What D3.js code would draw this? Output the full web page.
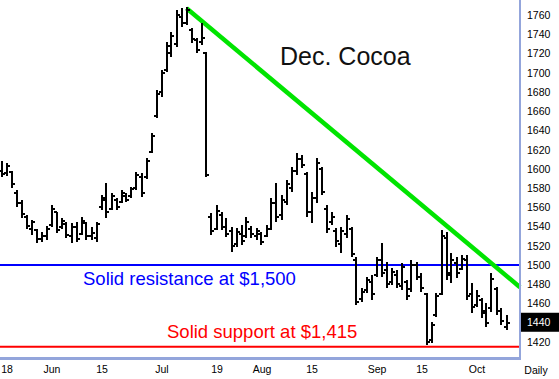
<!DOCTYPE html>
<html><head><meta charset="utf-8">
<script src="https://cdn.jsdelivr.net/npm/d3@7"></script>
<style>
html,body{margin:0;padding:0;background:#fff;}
svg{display:block;}
text{font-family:"Liberation Sans",Arial,sans-serif;}
</style></head><body>
<svg id="c" width="559" height="379"></svg>
<script>
// ---- data (Dec. Cocoa daily bars) ----
const dates = ["5/17","5/18","5/19","5/20","5/21","5/24","5/25","5/26","5/27","5/28",
"6/1","6/2","6/3","6/4","6/7","6/8","6/9","6/10","6/11","6/14",
"6/15","6/16","6/17","6/18","6/21","6/22","6/23","6/24","6/25","6/28",
"6/29","6/30","7/1","7/2","7/6","7/7","7/8","7/9","7/12","7/13",
"7/14","7/15","7/16","7/19","7/20","7/21","7/22","7/23","7/26","7/27",
"7/28","7/29","7/30","8/2","8/3","8/4","8/5","8/6","8/9","8/10",
"8/11","8/12","8/13","8/16","8/17","8/18","8/19","8/20","8/23","8/24",
"8/25","8/26","8/27","8/30","8/31","9/1","9/2","9/3","9/7","9/8",
"9/9","9/10","9/13","9/14","9/15","9/16","9/17","9/20","9/21","9/22",
"9/23","9/24","9/27","9/28","9/29","9/30","10/1","10/4","10/5","10/6",
"10/7","10/8"];
const highs = [1608,1606,1598,1578,1568,1552,1547,1538,1534,1541,
1562,1555,1549,1545,1544,1545,1550,1545,1540,1545,
1573,1585,1575,1570,1578,1575,1581,1597,1596,1611,
1637,1682,1703,1732,1742,1765,1767,1768,1746,1736,
1752,1722,1554,1562,1555,1549,1540,1539,1542,1550,
1541,1539,1534,1542,1570,1585,1573,1588,1602,1617,
1614,1597,1576,1611,1602,1562,1555,1539,1540,1552,
1540,1508,1476,1488,1490,1508,1523,1503,1497,1495,
1502,1484,1505,1503,1492,1471,1441,1471,1536,1534,
1513,1508,1510,1510,1481,1474,1466,1461,1492,1477,
1455,1448];
const lows = [1592,1593,1580,1560,1549,1538,1531,1523,1524,1526,
1540,1533,1538,1528,1523,1524,1531,1526,1526,1524,
1557,1549,1557,1557,1565,1566,1570,1578,1571,1590,
1616,1653,1675,1701,1716,1727,1748,1750,1731,1720,
1729,1592,1531,1536,1536,1529,1514,1519,1521,1528,
1528,1526,1521,1529,1536,1545,1547,1562,1576,1594,
1601,1550,1544,1565,1573,1533,1542,1519,1513,1528,
1508,1458,1462,1471,1464,1488,1488,1476,1479,1476,
1474,1464,1472,1484,1472,1417,1419,1446,1469,1484,
1481,1487,1495,1464,1450,1456,1445,1436,1451,1448,
1438,1432];
const opens = [1598,1596,1597,1575,1565,1550,1538,1536,1527,1530,
1542,1555,1540,1543,1530,1540,1532,1544,1530,1528,
1560,1568,1558,1568,1566,1572,1572,1580,1592,1592,
1618,1655,1680,1703,1720,1730,1758,1752,1744,1734,
1732,1720,1550,1538,1552,1540,1535,1522,1532,1530,
1538,1530,1532,1530,1538,1565,1552,1566,1580,1598,
1610,1595,1555,1570,1600,1558,1545,1535,1522,1532,
1538,1505,1465,1474,1482,1490,1505,1495,1482,1490,
1478,1482,1475,1500,1488,1470,1422,1448,1470,1528,
1492,1502,1496,1505,1470,1458,1464,1452,1455,1475,
1452,1436];
const closes = [1595,1603,1584,1565,1553,1541,1545,1527,1530,1538,
1558,1536,1546,1531,1540,1527,1546,1530,1533,1543,
1570,1555,1572,1560,1575,1568,1579,1594,1575,1608,
1634,1678,1700,1728,1738,1760,1752,1765,1735,1724,
1736,1594,1535,1556,1540,1532,1520,1534,1525,1545,
1532,1535,1524,1538,1565,1550,1568,1584,1598,1610,
1604,1555,1570,1606,1576,1538,1550,1525,1535,1548,
1512,1462,1472,1484,1470,1505,1492,1480,1493,1480,
1498,1468,1500,1488,1476,1420,1438,1468,1530,1490,
1505,1492,1506,1468,1456,1468,1450,1440,1485,1452,
1442,1440];
const priceTicks = [1420,1440,1460,1480,1500,1520,1540,1560,1580,1600,1620,1640,1660,1680,1700,1720,1740,1760];
const dateTickIdx = [1,10,20,32,43,52,62,75,84,95];
const dateTickLabels = ["18","Jun","15","Jul","19","Aug","15","Sep","15","Oct"];
const resistance = 1500, support = 1415;
const trendIdx = [37, 103.7], trendPrice = [1767, 1477];
const lastPrice = 1440;

// ---- drawing ----
const svg = d3.select("#c");
const W = 559, H = 379, plotR = 520, plotB = 357;
const x = d3.scaleLinear().domain([0, 103.7]).range([1.5, 520]);
const y = d3.scaleLinear().domain([1420, 1760]).range([342, 15]);
const idx = d3.range(highs.length);

svg.append("rect").attr("width", W).attr("height", H).attr("fill", "#ffffff");

// horizontal lines
svg.append("line").attr("x1", 0).attr("x2", plotR - 1)
  .attr("y1", y(resistance)).attr("y2", y(resistance))
  .attr("stroke", "#0000ff").attr("stroke-width", 2);
svg.append("line").attr("x1", 0).attr("x2", plotR - 1)
  .attr("y1", y(support)).attr("y2", y(support))
  .attr("stroke", "#ff0000").attr("stroke-width", 2);

// trend line
svg.append("line")
  .attr("x1", x(trendIdx[0])).attr("y1", y(trendPrice[0]))
  .attr("x2", x(trendIdx[1])).attr("y2", y(trendPrice[1]))
  .attr("stroke", "#00e400").attr("stroke-width", 4.5);

// OHLC bars
const g = svg.append("g").attr("stroke", "#000").attr("stroke-width", 2).attr("shape-rendering", "crispEdges");
const bars = g.selectAll("g.bar").data(idx).enter().append("g");
bars.append("line")
  .attr("x1", i => Math.round(x(i))).attr("x2", i => Math.round(x(i)))
  .attr("y1", i => y(highs[i])).attr("y2", i => y(lows[i]));
bars.append("line")
  .attr("x1", i => Math.round(x(i)) - 3).attr("x2", i => Math.round(x(i)))
  .attr("y1", i => Math.round(y(opens[i]))).attr("y2", i => Math.round(y(opens[i])));
bars.append("line")
  .attr("x1", i => Math.round(x(i))).attr("x2", i => Math.round(x(i)) + 3)
  .attr("y1", i => Math.round(y(closes[i]))).attr("y2", i => Math.round(y(closes[i])));

// borders
svg.append("rect").attr("x", 0).attr("y", plotB).attr("width", plotR + 1).attr("height", 3).attr("fill", "#93a5db");
svg.append("rect").attr("x", plotR - 1).attr("y", 0).attr("width", 2).attr("height", plotB + 3).attr("fill", "#93a5db");

// right axis
const ya = svg.append("g").attr("transform", `translate(${plotR},0)`)
  .call(d3.axisRight(y).tickValues(priceTicks).tickSize(0).tickPadding(7).tickFormat(d3.format("d")));
ya.select(".domain").remove();
ya.selectAll("text").attr("font-size", "10.5px").attr("fill", "#000").attr("font-family", "Liberation Sans, Arial, sans-serif");

// last price box
svg.append("rect").attr("x", plotR + 1).attr("y", y(lastPrice) - 10).attr("width", W - plotR - 1).attr("height", 19).attr("fill", "#000");
svg.append("text").attr("x", plotR + 7).attr("y", y(lastPrice)).attr("dy", "0.32em")
  .attr("font-size", "10.5px").attr("fill", "#fff").text(d3.format("d")(lastPrice));

// bottom axis labels
const xa = svg.append("g").attr("transform", `translate(0,${plotB + 3})`)
  .call(d3.axisBottom(x).tickValues(dateTickIdx).tickSize(0).tickPadding(6).tickFormat((d, i) => dateTickLabels[i]));
xa.select(".domain").remove();
xa.selectAll("text").attr("font-size", "10.5px").attr("fill", "#000").attr("font-family", "Liberation Sans, Arial, sans-serif");
svg.append("text").attr("x", 536).attr("y", 374).attr("text-anchor", "middle").attr("font-size", "10.5px").text("Daily");

// annotations
svg.append("text").attr("x", 280).attr("y", 65).attr("font-size", "25px").attr("fill", "#111").text("Dec. Cocoa");
svg.append("text").attr("x", 83).attr("y", 285).attr("font-size", "18.5px").attr("fill", "#0000ff").text("Solid resistance at $1,500");
svg.append("text").attr("x", 167).attr("y", 338).attr("font-size", "18.5px").attr("fill", "#ff0000").text("Solid support at $1,415");
</script>
</body></html>
